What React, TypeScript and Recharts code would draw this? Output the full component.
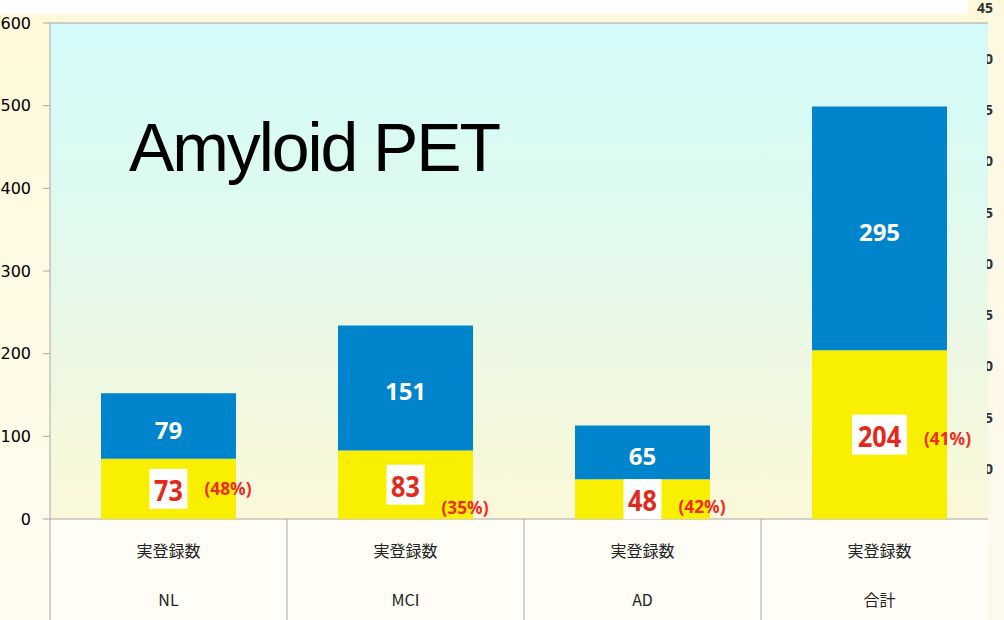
import { BarChart, Bar, XAxis, YAxis, CartesianGrid } from 'recharts';

const categories = ['NL', 'MCI', 'AD', '合計'];
const rowLabel = '実登録数';
const lowerValues = [73, 83, 48, 204];
const upperValues = [79, 151, 65, 295];
const lowerRates = ['(48%)', '(35%)', '(42%)', '(41%)'];
const leftTicks = [0, 100, 200, 300, 400, 500, 600];
const rightTicks = [0, 5, 10, 15, 20, 25, 30, 35, 40, 45];

const data = categories.map((name, i) => ({
  name,
  lower: lowerValues[i],
  upper: upperValues[i],
  rate: lowerRates[i],
}));

// little vertical nudges for the (xx%) labels, as in the slide
const rateShift = [0, 23, 7, 4];

const W = 1004;
const H = 620;
const PLOT_TOP = 23;
const PLOT_BOTTOM = 519;
const PLOT_LEFT = 50;
const PLOT_RIGHT = 998;
const VISIBLE_RIGHT = 988;
const BAND = (PLOT_RIGHT - PLOT_LEFT) / categories.length;
const GRID = '#a6a6a6';
const BLUE = '#0084cb';
const YELLOW = '#f8f000';
const RED = '#e3281c';

const UpperLabel = (props: any) => {
  const { x, y, width, height } = props.viewBox ?? props;
  const index = props.index ?? 0;
  return (
    <text
      x={x + width / 2}
      y={y + height / 2 + 3}
      textAnchor="middle"
      dominantBaseline="central"
      fill="#fff"
      fontSize={24}
      fontWeight={700}
      fontFamily="'Noto Sans', sans-serif"
    >
      {upperValues[index]}
    </text>
  );
};

const LowerLabel = (props: any) => {
  const { x, y, width, height } = props.viewBox ?? props;
  const index = props.index ?? 0;
  const text = String(lowerValues[index]);
  const cx = x + width / 2;
  const cy = y + height / 2;
  const bw = 17 * text.length + 4;
  return (
    <g>
      <rect x={cx - bw / 2} y={cy - 20} width={bw} height={40} fill="#fff" />
      <text
        x={cx}
        y={cy + 1}
        textAnchor="middle"
        dominantBaseline="central"
        fill={RED}
        fontSize={28}
        fontWeight={700}
        fontFamily="'Noto Sans', sans-serif"
        textLength={14.4 * text.length}
        lengthAdjust="spacingAndGlyphs"
      >
        {text}
      </text>
      <text
        x={cx + bw / 2 + 17}
        y={cy + rateShift[index]}
        dominantBaseline="central"
        fill="#ee2b24"
        fontSize={17}
        fontWeight={700}
        fontFamily="'Noto Sans', sans-serif"
        textLength={47}
        lengthAdjust="spacingAndGlyphs"
      >
        {lowerRates[index]}
      </text>
    </g>
  );
};

const CategoryTick = (props: any) => {
  const { x, payload } = props;
  const left = x - BAND / 2;
  return (
    <g>
      <line x1={left} x2={left} y1={PLOT_BOTTOM} y2={H} stroke={GRID} />
      <text x={x} y={550} textAnchor="middle" dominantBaseline="central" fill="#222" fontSize={16}
        fontFamily="'Noto Sans CJK JP', sans-serif">
        {rowLabel}
      </text>
      <text x={x} y={599} textAnchor="middle" dominantBaseline="central" fill="#222" fontSize={16}
        fontFamily="'Noto Sans CJK JP', sans-serif">
        {payload.value}
      </text>
    </g>
  );
};

const RightTick = (props: any) => {
  const { y, payload } = props;
  const top = payload.value === 45;
  return (
    <text
      x={993}
      y={y}
      dy={top ? 1 : 0}
      textAnchor="end"
      dominantBaseline="central"
      fill="#333"
      fontSize={top ? 14 : 15}
      fontWeight={700}
      fontFamily="'Open Sans', sans-serif"
      clipPath={top ? undefined : 'url(#rightClip)'}
    >
      {payload.value}
    </text>
  );
};

export default function App() {
  return (
    <div style={{ position: 'absolute', left: 0, top: 0, width: W, height: H, background: '#fff', overflow: 'hidden' }}>
      {/* slide frame */}
      <div style={{ position: 'absolute', left: 0, top: 14, width: W, height: H - 14,
        background: 'linear-gradient(#fff8d9, #fffdf1)' }} />
      <div style={{ position: 'absolute', left: 968, top: 0, width: 36, height: 14, background: '#fff8da' }} />
      <div style={{ position: 'absolute', left: VISIBLE_RIGHT, top: 14, width: W - VISIBLE_RIGHT, height: H - 14,
        background: 'linear-gradient(#fff8e0, #fcf9ef)' }} />
      {/* plot area and table backgrounds */}
      <div style={{ position: 'absolute', left: PLOT_LEFT, top: PLOT_TOP, width: VISIBLE_RIGHT - PLOT_LEFT,
        height: PLOT_BOTTOM - PLOT_TOP,
        background: 'linear-gradient(#d3fbfa 0%, #dcfaf1 30%, #e9f8e6 60%, #f5f8dc 85%, #fbf8da 100%)' }} />
      <div style={{ position: 'absolute', left: PLOT_LEFT, top: PLOT_BOTTOM, width: VISIBLE_RIGHT - PLOT_LEFT,
        height: H - PLOT_BOTTOM, background: '#fffdf6' }} />

      <div style={{ position: 'absolute', left: 0, top: 0 }}>
        <BarChart width={W} height={H} data={data} margin={{ top: PLOT_TOP, right: 0, bottom: 0, left: 0 }}>
          <CartesianGrid
            vertical={false}
            stroke={GRID}
            x={PLOT_LEFT}
            width={VISIBLE_RIGHT - PLOT_LEFT}
          />
          <XAxis
            dataKey="name"
            height={H - PLOT_BOTTOM}
            axisLine={false}
            tickLine={false}
            interval={0}
            tick={<CategoryTick />}
          />
          <YAxis
            yAxisId="left"
            width={PLOT_LEFT}
            domain={[0, 600]}
            ticks={leftTicks}
            interval={0}
            axisLine={{ stroke: GRID }}
            tickLine={{ stroke: GRID }}
            tickSize={7}
            tickMargin={12}
            tick={{ fill: '#000', fontSize: 16, fontFamily: "'DejaVu Sans', sans-serif" }}
          />
          <YAxis
            yAxisId="right"
            orientation="right"
            width={W - PLOT_RIGHT}
            domain={[-5, 43.4]}
            allowDataOverflow
            ticks={rightTicks}
            interval={0}
            axisLine={false}
            tickLine={false}
            tick={<RightTick />}
          />
          <Bar yAxisId="left" dataKey="lower" stackId="a" fill={YELLOW} barSize={135}
            isAnimationActive={false} label={<LowerLabel />} />
          <Bar yAxisId="left" dataKey="upper" stackId="a" fill={BLUE} barSize={135}
            isAnimationActive={false} label={<UpperLabel />} />
        </BarChart>
      </div>

      <svg width={W} height={H} style={{ position: 'absolute', left: 0, top: 0, pointerEvents: 'none' }}>
        <defs>
          <clipPath id="rightClip" clipPathUnits="userSpaceOnUse">
            <rect x={VISIBLE_RIGHT - 1} y={14} width={30} height={H} />
          </clipPath>
        </defs>
        <text x={129} y={171} fontSize={68} fontFamily="'Liberation Sans', Arial, sans-serif" fill="#000"
          textLength={372} lengthAdjust="spacing">
          Amyloid PET
        </text>
      </svg>
    </div>
  );
}
